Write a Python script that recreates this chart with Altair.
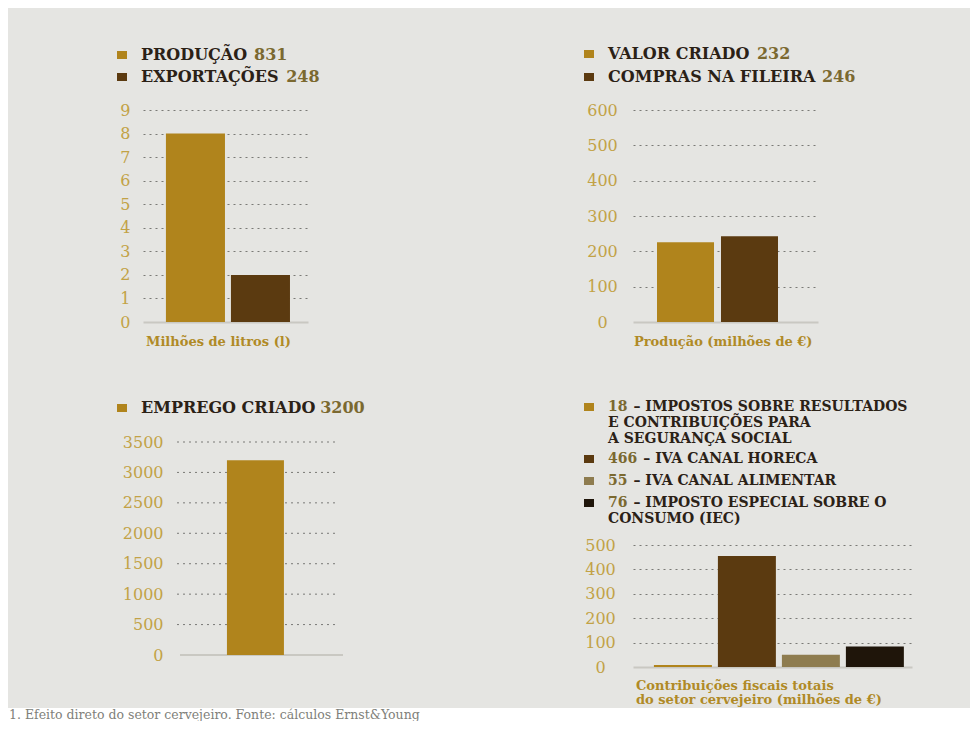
import altair as alt
import pandas as pd

# ---------------- data ----------------
p1_categories = ["PRODUÇÃO", "EXPORTAÇÕES"]
p1_legend_numbers = ["831", "248"]
p1_values = [8, 2]
p1_ticks = [0, 1, 2, 3, 4, 5, 6, 7, 8, 9]
p1_axis_title = "Milhões de litros (l)"

p2_categories = ["VALOR CRIADO", "COMPRAS NA FILEIRA"]
p2_legend_numbers = ["232", "246"]
p2_values = [226, 243]
p2_ticks = [0, 100, 200, 300, 400, 500, 600]
p2_axis_title = "Produção (milhões de €)"

p3_categories = ["EMPREGO CRIADO"]
p3_legend_numbers = ["3200"]
p3_values = [3200]
p3_ticks = [0, 500, 1000, 1500, 2000, 2500, 3000, 3500]

p4_categories = [
    "IMPOSTOS SOBRE RESULTADOS E CONTRIBUIÇÕES PARA A SEGURANÇA SOCIAL",
    "IVA CANAL HORECA",
    "IVA CANAL ALIMENTAR",
    "IMPOSTO ESPECIAL SOBRE O CONSUMO (IEC)",
]
p4_legend_numbers = ["18", "466", "55", "76"]
p4_legend_lines = [
    ["– IMPOSTOS SOBRE RESULTADOS", "E CONTRIBUIÇÕES PARA", "A SEGURANÇA SOCIAL"],
    ["– IVA CANAL HORECA"],
    ["– IVA CANAL ALIMENTAR"],
    ["– IMPOSTO ESPECIAL SOBRE O", "CONSUMO (IEC)"],
]
p4_values = [8, 455, 50, 84]
p4_ticks = [0, 100, 200, 300, 400, 500]
p4_axis_title = ["Contribuições fiscais totais", "do setor cervejeiro (milhões de €)"]

footer_text = "1. Efeito direto do setor cervejeiro. Fonte: cálculos Ernst&Young"

# ---------------- style ----------------
FONT = "DejaVu Serif"
BG = "#e5e5e2"
GOLD, BROWN, OLIVE, DARK = "#b0841c", "#5b3a10", "#8e7c4f", "#1f150a"
LABEL_C = "#c2a246"
TITLE_C = "#b08a26"
LEG_C = "#2b2116"
NUM_C = "#7b6930"
GRID_C = "#6e6e6a"
BASE_C = "#c9c8c2"
LEG_FS = 16
LEG4_FS = 14

W = {"A": .80, "B": .80, "C": .77, "D": .85, "E": .74, "F": .71, "G": .84, "I": .50,
     "L": .68, "M": 1.03, "N": .89, "O": .85, "P": .74, "R": .80, "S": .72, "T": .73,
     "U": .87, "V": .72, "X": .80, "Ç": .77, "Ã": .80, "Õ": .85, " ": .35, "–": .50,
     "(": .47, ")": .47}


def tw(s, size):
    return sum(W.get(c, 0.70) for c in s) * size


ONE = pd.DataFrame({"k": [0]})


def rect(x1, x2, y1, y2, color, opacity=1.0):
    return alt.Chart(ONE).mark_rect(color=color, opacity=opacity).encode(
        x=alt.value(x1), x2=alt.value(x2), y=alt.value(y1), y2=alt.value(y2))


def text(s, x, y, color, size, weight="bold", align="left"):
    return alt.Chart(pd.DataFrame({"t": [s]})).mark_text(
        font=FONT, fontSize=size, fontWeight=weight, color=color,
        align=align, baseline="middle").encode(
        x=alt.value(x), y=alt.value(y), text="t:N")


def y_axis(ticks, align, pad, grid=True, offset=None):
    kw = dict(values=ticks, title=None, domain=False, ticks=False, tickSize=0,
              labelPadding=pad, labelAlign=align, labelFont=FONT, labelFontSize=16,
              labelColor=LABEL_C, labelOverlap=False, grid=grid, format="d")
    if grid:
        kw.update(gridColor=GRID_C, gridDash=[2, 4], gridWidth=1,
                  gridOpacity={"condition": {"test": "datum.value === 0", "value": 0},
                               "value": 0.9})
    if offset is not None:
        kw["offset"] = offset
    return alt.Axis(**kw)


X_AXIS = alt.Axis(labels=False, ticks=False, title=None, domainColor=BASE_C,
                  domainWidth=2, grid=False)


def bars(key, cats, vals, colors, ticks, pi, po, align, yaxis, xaxis=X_AXIS):
    df = pd.DataFrame({key: cats, "value": vals})
    return alt.Chart(df).mark_bar().encode(
        x=alt.X(f"{key}:N", sort=cats,
                scale=alt.Scale(paddingInner=pi, paddingOuter=po, align=align),
                axis=xaxis),
        y=alt.Y("value:Q", scale=alt.Scale(domain=[0, ticks[-1]], nice=False),
                axis=yaxis),
        color=alt.Color(f"{key}:N", scale=alt.Scale(domain=cats, range=colors),
                        legend=None),
    )


def legend_simple(cats, nums, colors, x0, ys, size=LEG_FS):
    out = []
    for c, n, col, y in zip(cats, nums, colors, ys):
        out.append(rect(x0 - 24, x0 - 14, y - 4, y + 4, col))
        out.append(text(c, x0, y, LEG_C, size))
        out.append(text(n, x0 + tw(c + " ", size) + 3, y, NUM_C, size))
    return out


# ---------------- panel 1 ----------------
p1 = alt.layer(
    rect(-135, 417, -102, 262, "white", 0),
    bars("c1", p1_categories, p1_values, [GOLD, BROWN], p1_ticks, 0.092, 0.315, 0.56,
         y_axis(p1_ticks, "right", 13)),
    *legend_simple(p1_categories, p1_legend_numbers, [GOLD, BROWN], -2, [-55, -33]),
    text(p1_axis_title, 3, 232, TITLE_C, 13),
).properties(width=165, height=212)

# ---------------- panel 2 ----------------
p2 = alt.layer(
    rect(-73, 337, -102, 262, "white", 0),
    bars("c2", p2_categories, p2_values, [GOLD, BROWN], p2_ticks, 0.109, 0.5, 0.375,
         y_axis(p2_ticks, "center", 31)),
    *legend_simple(p2_categories, p2_legend_numbers, [GOLD, BROWN], -25, [-56, -33]),
    text(p2_axis_title, 1, 232, TITLE_C, 13),
).properties(width=185, height=212)

# ---------------- panel 3 ----------------
p3_scale = alt.Scale(domain=[0, p3_ticks[-1]], nice=False)
p3_axis = y_axis(p3_ticks, "right", 14, grid=False, offset=-34)
p3_grid = alt.Chart(pd.DataFrame({"value": p3_ticks[1:]})).mark_rule(
    color=GRID_C, strokeDash=[2, 4], strokeWidth=1, opacity=0.9).encode(
    y=alt.Y("value:Q", scale=p3_scale, axis=p3_axis), x=alt.value(34), x2=alt.value(195))
p3_base = alt.Chart(pd.DataFrame({"value": [0]})).mark_rule(
    color=BASE_C, strokeWidth=2).encode(
    y=alt.Y("value:Q", scale=p3_scale, axis=p3_axis), x=alt.value(37), x2=alt.value(200))
p3 = alt.layer(
    rect(-135, 417, -70, 266, "white", 0),
    p3_grid,
    p3_base,
    bars("c3", p3_categories, p3_values, [GOLD], p3_ticks, 0.203, 1.0, 0.587,
         p3_axis, xaxis=None),
    *legend_simple(p3_categories, p3_legend_numbers, [GOLD], -2, [-34]),
).properties(width=200, height=213)

# ---------------- panel 4 ----------------
p4_colors = [GOLD, BROWN, OLIVE, DARK]
p4_first_y = [-138, -86, -64, -42]
LH = 16
p4_leg = []
for num, lines, col, y0 in zip(p4_legend_numbers, p4_legend_lines, p4_colors, p4_first_y):
    p4_leg.append(rect(-49, -39, y0 - 4, y0 + 4, col))
    p4_leg.append(text(num, -25, y0, NUM_C, LEG4_FS))
    p4_leg.append(text(lines[0], -25 + tw(num + " ", LEG4_FS) + 1, y0, LEG_C, LEG4_FS))
    for i, ln in enumerate(lines[1:], start=1):
        p4_leg.append(text(ln, -25, y0 + i * LH, LEG_C, LEG4_FS))

p4 = alt.layer(
    rect(-73, 337, -173, 163, "white", 0),
    bars("c4", p4_categories, p4_values, p4_colors, p4_ticks, 0.094, 0.227, 0.72,
         y_axis(p4_ticks, "center", 33)),
    *p4_leg,
    text(p4_axis_title[0], 3, 141, TITLE_C, 13),
    text(p4_axis_title[1], 3, 155, TITLE_C, 13),
).properties(width=279, height=122)

# ---------------- footer ----------------
footer = alt.layer(
    rect(-135, 827, 0, 13, "white"),
    text(footer_text, -134, 6.5, "#807f7a", 12.5, weight="normal"),
).properties(width=100, height=13)

col1 = alt.vconcat(p1, p3, spacing=0).resolve_scale(color="independent")
col2 = alt.vconcat(p2, p4, spacing=0).resolve_scale(color="independent")
grid = alt.hconcat(col1, col2, spacing=0).resolve_scale(color="independent")
chart = alt.vconcat(grid, footer, spacing=0).resolve_scale(color="independent").properties(
    background=BG, padding=0
).configure_view(stroke=None)

chart.save("out.html", embed_options={"renderer": "svg", "actions": False})
